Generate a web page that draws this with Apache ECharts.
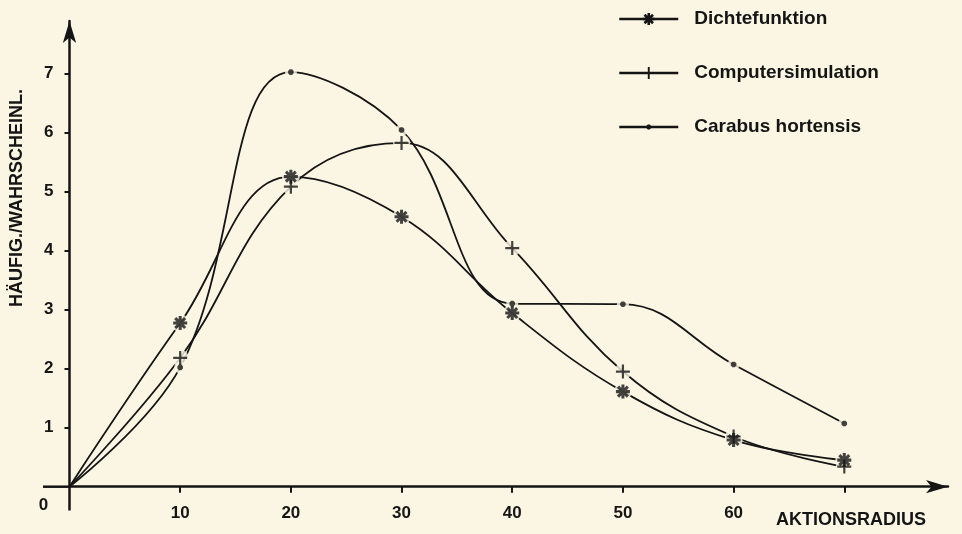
<!DOCTYPE html>
<html><head><meta charset="utf-8">
<script src="https://cdn.jsdelivr.net/npm/echarts@6/dist/echarts.min.js"></script>
<style>html,body{margin:0;padding:0;background:#fbf6e3}#c{width:962px;height:534px}</style>
</head><body><div id="c"></div>
<script>
// ---- data ----
const radius = [0, 10, 20, 30, 40, 50, 60, 70];
const dichtefunktion = [0, 2.77, 5.25, 4.57, 2.94, 1.61, 0.79, 0.45];
const computersimulation = [0, 2.18, 5.08, 5.82, 4.04, 1.95, 0.85, 0.34];
const carabusHortensis = [0, 2.02, 7.02, 6.04, 3.10, 3.09, 2.07, 1.07];
const seriesNames = ['Dichtefunktion', 'Computersimulation', 'Carabus hortensis'];
const xTickValues = [10, 20, 30, 40, 50, 60, 70];
const xLabelValues = [10, 20, 30, 40, 50, 60];
const yTickValues = [1, 2, 3, 4, 5, 6, 7];
const originLabel = '0';
const xAxisTitle = 'AKTIONSRADIUS';
const yAxisTitle = 'HÄUFIG./WAHRSCHEINL.';

// ---- style ----
const BG = '#fbf6e3', INK = '#151515';
const FONT = '"Liberation Sans", Arial, sans-serif';
const ASTER = 'path://M-1.3 -6 L1.3 -6 L1.3 6 L-1.3 6 Z M-6 -1.3 L6 -1.3 L6 1.3 L-6 1.3 Z M-3.32 -5.16 L5.16 3.32 L3.32 5.16 L-5.16 -3.32 Z M-5.16 3.32 L3.32 -5.16 L5.16 -3.32 L-3.32 5.16 Z';
const PLUS = 'path://M-1.1 -7 L1.1 -7 L1.1 7 L-1.1 7 Z M-7 -1.1 L7 -1.1 L7 1.1 L-7 1.1 Z';
const DOT = 'path://M-6 -6 L-6 -6 Z M6 6 L6 6 Z M2.4 1 L1 2.4 L-1 2.4 L-2.4 1 L-2.4 -1 L-1 -2.4 L1 -2.4 L2.4 -1 Z';

const sets = [
  {name: seriesNames[0], vals: dichtefunktion, sym: ASTER, size: 14, halo: 18},
  {name: seriesNames[1], vals: computersimulation, sym: PLUS, size: 14, halo: 17},
  {name: seriesNames[2], vals: carabusHortensis, sym: DOT, size: 14, halo: 12}
];

const series = [];
sets.forEach(s => {
  const pts = radius.map((x, i) => [x, s.vals[i]]);
  const markerPts = pts.slice(1);
  series.push({
    type: 'line', name: s.name, data: pts, smooth: 0.4, z: 2,
    symbol: s.sym, symbolSize: s.size, showSymbol: false,
    lineStyle: {color: INK, width: 1.8}, itemStyle: {color: INK}
  });
  series.push({
    type: 'scatter', name: s.name + ' halo', data: markerPts, z: 3,
    symbol: 'circle', symbolSize: s.halo, itemStyle: {color: BG}
  });
  series.push({
    type: 'scatter', name: s.name + ' marker', data: markerPts, z: 4,
    symbol: s.sym, symbolSize: s.size, itemStyle: {color: INK}
  });
});

const chart = echarts.init(document.getElementById('c'), null, {renderer: 'canvas'});
chart.setOption({
  backgroundColor: BG,
  animation: false,
  silent: true,
  grid: {left: 69.5, right: 14, top: 21, bottom: 47.3},
  legend: {
    data: seriesNames, orient: 'vertical', left: 618, top: 7, padding: 0,
    itemWidth: 59, itemHeight: 15, itemGap: 30,
    lineStyle: {width: 2.5},
    textStyle: {fontFamily: FONT, fontSize: 19, fontWeight: 'bold', color: INK, lineHeight: 24, padding: [0, 0, 0, 11]},
    selectedMode: false
  },
  xAxis: {
    type: 'value', min: 0, max: 79.37,
    splitLine: {show: false},
    axisLine: {symbol: ['none', 'arrow'], symbolSize: [10, 22], lineStyle: {color: INK, width: 2.5}},
    axisTick: {customValues: xTickValues, length: 6, lineStyle: {color: INK, width: 2}},
    axisLabel: {customValues: xLabelValues, margin: 18, color: INK, fontSize: 17, fontWeight: 'bold', fontFamily: FONT}
  },
  yAxis: {
    type: 'value', min: 0, max: 7.885,
    splitLine: {show: false},
    axisLine: {symbol: ['none', 'arrow'], symbolSize: [10, 22], lineStyle: {color: INK, width: 2.5}},
    axisTick: {customValues: yTickValues, length: 5, lineStyle: {color: INK, width: 2}},
    axisLabel: {customValues: yTickValues, margin: 16, color: INK, fontSize: 17, fontWeight: 'bold', fontFamily: FONT}
  },
  graphic: [
    {type: 'line', shape: {x1: 43, y1: 486.7, x2: 69.5, y2: 486.7}, style: {stroke: INK, lineWidth: 2.5}},
    {type: 'line', shape: {x1: 69.5, y1: 486.7, x2: 69.5, y2: 510.5}, style: {stroke: INK, lineWidth: 2.5}},
    {type: 'text', x: 43.5, y: 505, style: {text: originLabel, fill: INK, font: 'bold 17px ' + FONT, textAlign: 'center', textVerticalAlign: 'middle'}},
    {type: 'text', x: 851, y: 520, style: {text: xAxisTitle, fill: INK, font: 'bold 18px ' + FONT, textAlign: 'center', textVerticalAlign: 'middle'}},
    {type: 'text', x: 17, y: 198, rotation: Math.PI / 2, style: {text: yAxisTitle, fill: INK, font: 'bold 18px ' + FONT, textAlign: 'center', textVerticalAlign: 'middle'}}
  ],
  series: series
});
</script>
</body></html>
